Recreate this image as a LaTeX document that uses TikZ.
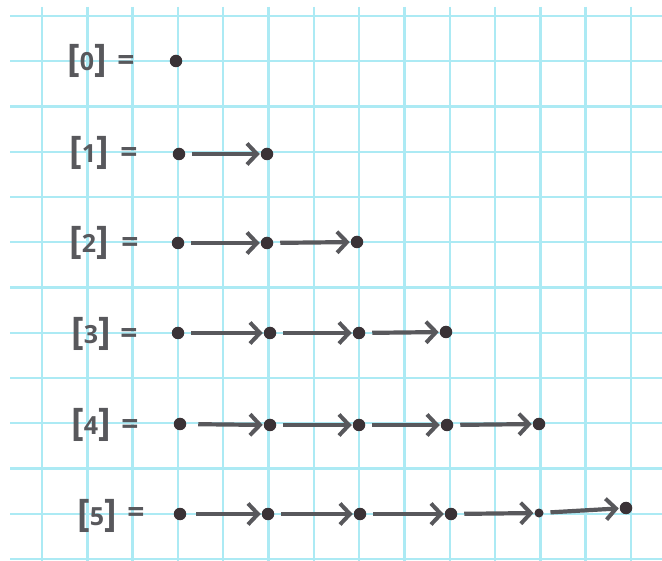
\documentclass[tikz,border=0pt]{standalone}
\usepackage{fontspec}
\setmainfont{Open Sans}
\usetikzlibrary{arrows.meta}
\definecolor{gridc}{RGB}{172,234,244}
\definecolor{ink}{RGB}{58,50,54}
\definecolor{pen}{RGB}{88,88,92}
\newcommand{\brk}[1]{{\fontsize{38}{40}\selectfont[}{\fontsize{25}{30}\selectfont\raisebox{1.5pt}{#1}}{\fontsize{38}{40}\selectfont]}}
\tikzset{
  gridline/.style={draw=gridc,line width=2.4pt},
  dot/.style={circle,fill=ink,inner sep=0pt,minimum size=12.5pt,outer sep=0pt},
  arr/.style={draw=pen,line width=4.2pt,-{Straight Barb[length=10pt,width=21pt,line width=4pt]},shorten <=7pt,shorten >=1pt},
  lbl/.style={text=pen,font=\bfseries,inner sep=0pt},
  eq/.style={text=pen,font=\fontsize{30}{34}\selectfont\bfseries,inner sep=0pt}
}
\begin{document}
\begin{tikzpicture}[x=1pt,y=-1pt]
\useasboundingbox (0,0) rectangle (662,561);
\fill[white] (0,0) rectangle (662,561);
% grid
\foreach \k in {0,...,13} \draw[gridline] ({42+45.3*\k},7) -- ({42+45.3*\k},561);
\foreach \k in {0,...,12} \draw[gridline] (10,{16+45.25*\k}) -- (662,{16+45.25*\k});
% row 0
\node[lbl] (l0) at (87,61) {\brk{0}};
\node[eq] (e0) at (126,63) {=};
\node[dot] (a0) at (176,61) {};
% row 1
\node[lbl] (l1) at (89,153) {\brk{1}};
\node[eq] (e1) at (129,155) {=};
\node[dot] (a1) at (179,154) {};
\node[dot] (b1) at (267,154) {};
\draw[arr] (a1) -- (b1);
% row 2
\node[lbl] (l2) at (89,243) {\brk{2}};
\node[eq] (e2) at (130,245) {=};
\node[dot] (a2) at (178,243) {};
\node[dot] (b2) at (267,243) {};
\node[dot] (c2) at (357,242) {};
\draw[arr] (a2) -- (b2);
\draw[arr] (b2) -- (c2);
% row 3
\node[lbl] (l3) at (91,334) {\brk{3}};
\node[eq] (e3) at (129,336) {=};
\node[dot] (a3) at (178,333) {};
\node[dot] (b3) at (270,333) {};
\node[dot] (c3) at (359,333) {};
\node[dot] (d3) at (446,332) {};
\draw[arr] (a3) -- (b3);
\draw[arr] (b3) -- (c3);
\draw[arr] (c3) -- (d3);
% row 4
\node[lbl] (l4) at (91,425) {\brk{4}};
\node[eq] (e4) at (130,427) {=};
\node[dot] (a4) at (180,424) {};
\node[dot] (b4) at (270,425) {};
\node[dot] (c4) at (359,425) {};
\node[dot] (d4) at (447,425) {};
\node[dot] (e4d) at (539,424) {};
\draw[arr,shorten <=12pt] (a4) -- (b4);
\draw[arr] (b4) -- (c4);
\draw[arr] (c4) -- (d4);
\draw[arr] (d4) -- (e4d);
% row 5
\node[lbl] (l5) at (97,516) {\brk{5}};
\node[eq] (e5) at (136,515) {=};
\node[dot] (a5) at (180,514) {};
\node[dot] (b5) at (268,514) {};
\node[dot] (c5) at (360,514) {};
\node[dot] (d5) at (451,514) {};
\node[dot,minimum size=9pt] (e5d) at (539,513) {};
\node[dot] (f5) at (626,508) {};
\draw[arr,shorten <=10pt] (a5) -- (b5);
\draw[arr] (b5) -- (c5);
\draw[arr] (c5) -- (d5);
\draw[arr] (d5) -- (e5d);
\draw[arr] (e5d) -- (f5);
\end{tikzpicture}
\end{document}
